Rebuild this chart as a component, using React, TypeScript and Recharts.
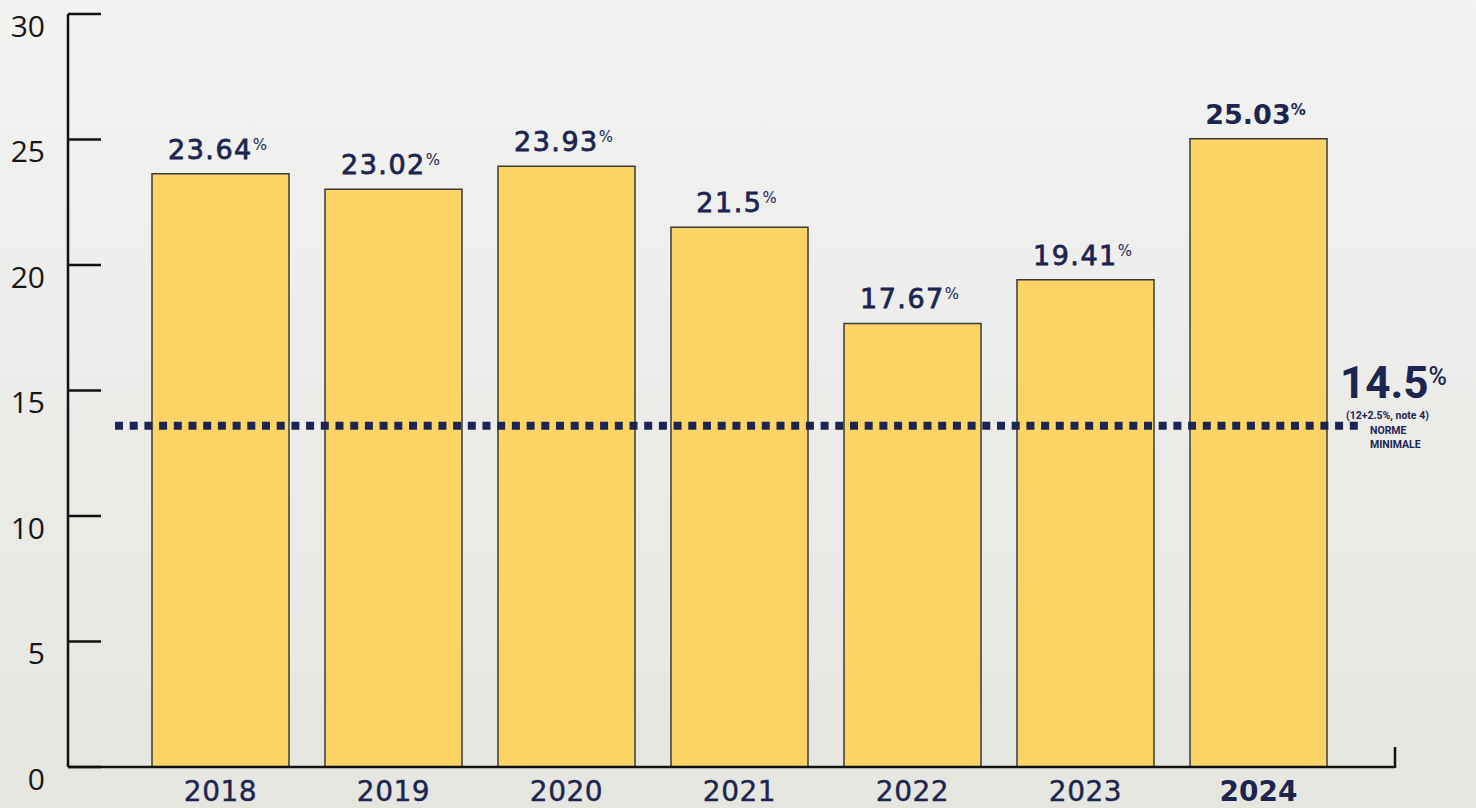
import { BarChart, Bar, XAxis, YAxis, ReferenceLine, LabelList, usePlotArea } from 'recharts'

// === DONNÉES ===
const years = ['2018', '2019', '2020', '2021', '2022', '2023', '2024']
const ratios = [23.64, 23.02, 23.93, 21.5, 17.67, 19.41, 25.03]
const yTicks = [0, 5, 10, 15, 20, 25, 30]
const normLevel = 13.6 // position où la ligne pointillée est tracée
const normLabel = '14.5'
const normNote = '(12+2.5%, note 4)'
const normText = ['NORME', 'MINIMALE']

const highlight = '2024'
const navy = '#1c2550'
const data = years.map((year, i) => ({ year, value: ratios[i] }))

const YTick = ({ x, y, payload }: any) => (
  <g>
    <line x1={x + 23} y1={y} x2={x + 56} y2={y} stroke="#111" strokeWidth={2.5} />
    <text x={x} y={y + 12} dy="0.355em" textAnchor="end" fontSize={30} fontFamily="Open Sans" fill="#161616">
      {payload.value}
    </text>
  </g>
)

const XTick = ({ x, y, payload }: any) => {
  const bold = payload.value === highlight
  return (
    <text
      x={x}
      y={y}
      dy="0.71em"
      textAnchor="middle"
      fontSize={28}
      fontFamily="DejaVu Sans"
      fontWeight={bold ? 700 : 400}
      letterSpacing={bold ? 0 : 0.5}
      fill={navy}
      stroke={bold ? 'none' : navy}
      strokeWidth={0.4}
    >
      {payload.value}
    </text>
  )
}

const ValueLabel = ({ x, y, width, value, index }: any) => {
  const bold = years[index] === highlight
  return (
    <text
      x={x + width / 2 - 3}
      y={y - 15}
      textAnchor="middle"
      fontFamily="DejaVu Sans"
      fill={navy}
      fontWeight={bold ? 700 : 400}
    >
      <tspan fontSize={27} letterSpacing={bold ? 0 : 1.5} stroke={bold ? 'none' : navy} strokeWidth={0.8}>
        {String(value)}
      </tspan>
      <tspan fontSize={15} dy={-9}>%</tspan>
    </text>
  )
}

const NormLine = ({ x1, y1, x2 }: any) => {
  const sx = x1 + 47
  const ex = x2 - 33
  return (
    <g>
      <line x1={sx} y1={y1} x2={ex} y2={y1} stroke={navy} strokeWidth={8} strokeDasharray="8 6.7" />
      <text x={ex - 22} y={y1 - 28} fontFamily="Roboto" fontWeight={700} fill={navy}>
        <tspan fontSize={44}>{normLabel}</tspan>
        <tspan fontSize={25} dy={-13} fontWeight={500}>%</tspan>
      </text>
      <text x={ex - 16} y={y1 - 7} fontFamily="Roboto" fontWeight={700} fontSize={10.5} fill={navy}>
        {normNote}
      </text>
      {normText.map((t, i) => (
        <text key={t} x={ex + 8} y={y1 + 8 + i * 14} fontFamily="Roboto" fontWeight={700} fontSize={10.5} fill={navy}>
          {t}
        </text>
      ))}
    </g>
  )
}

function EndTick() {
  const area = usePlotArea()
  if (!area) return null
  const x = area.x + area.width
  const y = area.y + area.height
  return <line x1={x} y1={y - 20} x2={x} y2={y + 1} stroke="#111" strokeWidth={2.5} />
}

export default function App() {
  return (
    <div
      style={{
        position: 'absolute',
        left: 0,
        top: 0,
        width: 1476,
        height: 808,
        background: 'linear-gradient(180deg, #f3f3f1 0%, #ececea 45%, #e6e6e0 100%)',
      }}
    >
      <BarChart
        width={1476}
        height={808}
        data={data}
        margin={{ top: 14, right: 81, bottom: 0, left: 0 }}
        barCategoryGap={18}
      >
        <YAxis
          domain={[0, 30]}
          ticks={yTicks}
          width={68}
          tickSize={0}
          tickMargin={23}
          tick={<YTick />}
          axisLine={{ stroke: '#111', strokeWidth: 2.5 }}
          tickLine={false}
          interval={0}
        />
        <XAxis
          dataKey="year"
          height={41}
          padding={{ left: 66, right: 50 }}
          tickSize={0}
          tickMargin={14}
          tick={<XTick />}
          axisLine={{ stroke: '#111', strokeWidth: 2.5 }}
          tickLine={false}
          interval={0}
        />
        <Bar dataKey="value" fill="#fed467" stroke="#3a3a3a" strokeWidth={1.5} isAnimationActive={false}>
          <LabelList dataKey="value" content={<ValueLabel />} />
        </Bar>
        <ReferenceLine y={normLevel} shape={<NormLine />} />
        <EndTick />
      </BarChart>
    </div>
  )
}
